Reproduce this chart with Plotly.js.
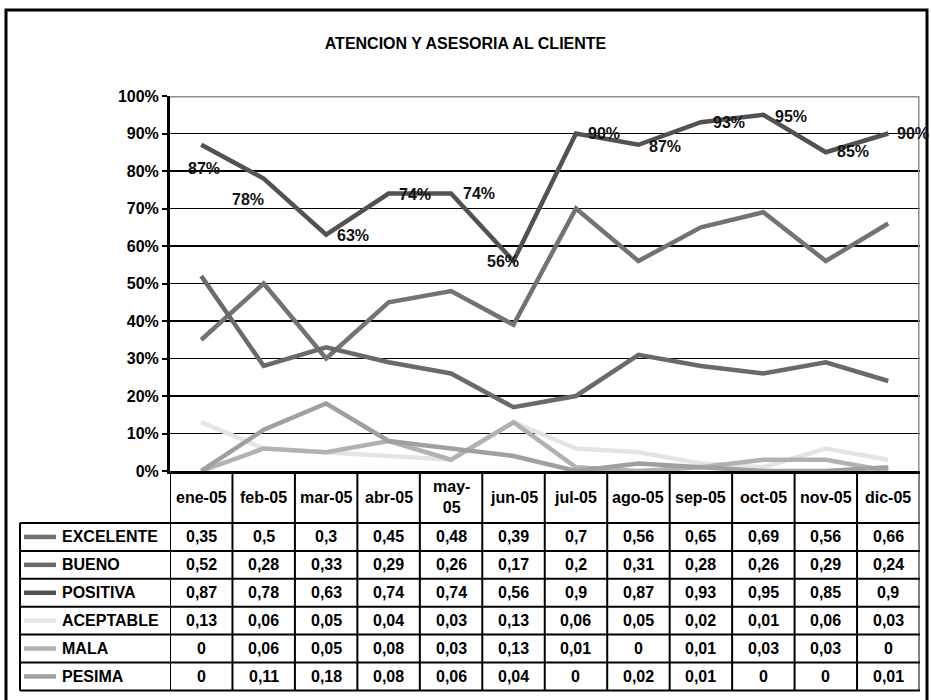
<!DOCTYPE html>
<html>
<head>
<meta charset="utf-8">
<script src="https://cdn.plot.ly/plotly-3.0.1.min.js"></script>
<style>
  html, body { margin: 0; padding: 0; background: #ffffff; }
  #chart { width: 931px; height: 700px; }
</style>
</head>
<body>
<div id="chart"></div>
<script>
// Monthly customer-service ratings for 2005
const categories = ['ene-05', 'feb-05', 'mar-05', 'abr-05', 'may-05', 'jun-05',
                    'jul-05', 'ago-05', 'sep-05', 'oct-05', 'nov-05', 'dic-05'];
const seriesNames = ['EXCELENTE', 'BUENO', 'POSITIVA', 'ACEPTABLE', 'MALA', 'PESIMA'];
const excelente = [0.35, 0.5, 0.3, 0.45, 0.48, 0.39, 0.7, 0.56, 0.65, 0.69, 0.56, 0.66];
const bueno     = [0.52, 0.28, 0.33, 0.29, 0.26, 0.17, 0.2, 0.31, 0.28, 0.26, 0.29, 0.24];
const positiva  = [0.87, 0.78, 0.63, 0.74, 0.74, 0.56, 0.9, 0.87, 0.93, 0.95, 0.85, 0.9];
const aceptable = [0.13, 0.06, 0.05, 0.04, 0.03, 0.13, 0.06, 0.05, 0.02, 0.01, 0.06, 0.03];
const mala      = [0, 0.06, 0.05, 0.08, 0.03, 0.13, 0.01, 0, 0.01, 0.03, 0.03, 0];
const pesima    = [0, 0.11, 0.18, 0.08, 0.06, 0.04, 0, 0.02, 0.01, 0, 0, 0.01];
const seriesValues = [excelente, bueno, positiva, aceptable, mala, pesima];

// Styling
const seriesColors = ['#737373', '#6a6a6a', '#525252', '#e4e4e4', '#b2b2b2', '#a0a0a0'];
const FONT = '"Liberation Sans", Arial, sans-serif';
const W = 931, H = 700;
const px = v => v / W;              // pixel -> paper x
const py = v => 1 - v / H;          // pixel -> paper y
const boldFont = (size, color) => ({ family: FONT, size: size, color: color || '#000000', weight: 'bold' });

// Data-label nudges for the POSITIVA series (pixels, right / up)
const labelDx = [3, -16, 27, 26, 28, -11, 28, 27, 28, 28, 27, 25];
const labelDy = [-24, -21, -1, -1, 0, 0, 0, -2, 0, -2, 1, 0];

// Table geometry (pixels)
const axisBottomPx = 471, headerBottomPx = 523, rowH = 27.9;
const tableLeftPx = 20, tableRightPx = 920;

const traces = seriesValues.map((vals, i) => ({
  type: 'scatter',
  mode: 'lines',
  name: seriesNames[i],
  x: categories,
  y: vals,
  line: { color: seriesColors[i], width: 4.5 },
  hoverinfo: 'skip'
}));

const shapes = [];
const annotations = [];

// Outer chart frame
shapes.push({ type: 'rect', xref: 'paper', yref: 'paper',
  x0: px(6), x1: px(927), y0: py(712), y1: py(10),
  line: { color: '#000000', width: 3 }, fillcolor: 'rgba(0,0,0,0)' });

// Grey plot-area border on top and right
shapes.push({ type: 'line', xref: 'x', yref: 'y', x0: -0.5, x1: categories.length - 0.5, y0: 1, y1: 1,
  line: { color: '#8e8e8e', width: 3 } });
shapes.push({ type: 'line', xref: 'x', yref: 'y', x0: categories.length - 0.5, x1: categories.length - 0.5, y0: 0, y1: 1,
  line: { color: '#8e8e8e', width: 3 } });

// Data table: column separators follow the category scale
const tableBottomPx = headerBottomPx + rowH * seriesNames.length;
for (let i = 0; i <= categories.length; i++) {
  shapes.push({ type: 'line', xref: 'x', yref: 'paper', x0: i - 0.5, x1: i - 0.5,
    y0: py(axisBottomPx), y1: py(tableBottomPx), line: { color: '#000000', width: 2 } });
}
// Row separators
for (let r = 0; r <= seriesNames.length; r++) {
  const y = headerBottomPx + r * rowH;
  shapes.push({ type: 'line', xref: 'paper', yref: 'paper', x0: px(tableLeftPx), x1: px(tableRightPx),
    y0: py(y), y1: py(y), line: { color: '#000000', width: 2 } });
}
shapes.push({ type: 'line', xref: 'paper', yref: 'paper', x0: px(tableLeftPx), x1: px(tableLeftPx),
  y0: py(headerBottomPx), y1: py(tableBottomPx), line: { color: '#000000', width: 2 } });

// Header row: category names
const headerText = categories.map(c => c === 'may-05' ? 'may-<br>05' : c);
categories.forEach((c, i) => {
  annotations.push({ xref: 'x', yref: 'paper', x: c, y: py((axisBottomPx + headerBottomPx) / 2),
    text: headerText[i], showarrow: false, xanchor: 'center', yanchor: 'middle',
    font: boldFont(16), align: 'center' });
});

// Series rows: legend key, name, values
seriesNames.forEach((name, r) => {
  const yc = headerBottomPx + (r + 0.5) * rowH;
  shapes.push({ type: 'line', xref: 'paper', yref: 'paper', x0: px(24), x1: px(56), y0: py(yc), y1: py(yc),
    line: { color: seriesColors[r], width: 4.5 } });
  annotations.push({ xref: 'paper', yref: 'paper', x: px(60), y: py(yc), text: name,
    showarrow: false, xanchor: 'left', yanchor: 'middle', font: boldFont(16) });
  seriesValues[r].forEach((v, i) => {
    annotations.push({ xref: 'x', yref: 'paper', x: categories[i], y: py(yc),
      text: String(v).replace('.', ','), showarrow: false, xanchor: 'center', yanchor: 'middle',
      font: boldFont(16) });
  });
});

// Percentage labels on the POSITIVA line
positiva.forEach((v, i) => {
  annotations.push({ xref: 'x', yref: 'y', x: categories[i], y: v,
    text: Math.round(v * 100) + '%', showarrow: false, xanchor: 'center', yanchor: 'middle',
    xshift: labelDx[i], yshift: labelDy[i], font: boldFont(16, '#111111') });
});

const layout = {
  width: W, height: H,
  margin: { l: 0, r: 0, t: 0, b: 0 },
  paper_bgcolor: '#ffffff', plot_bgcolor: '#ffffff',
  showlegend: false,
  title: { text: 'ATENCION Y ASESORIA AL CLIENTE', x: 0.5, xanchor: 'center',
           y: py(43), yanchor: 'middle', font: boldFont(16) },
  xaxis: {
    type: 'category', domain: [px(170), px(919.5)], range: [-0.5, categories.length - 0.5],
    showticklabels: false, ticks: '', showgrid: false, zeroline: false,
    showline: true, linecolor: '#000000', linewidth: 3, fixedrange: true
  },
  yaxis: {
    domain: [py(axisBottomPx), py(96)], range: [0, 1],
    tickvals: [0, 0.1, 0.2, 0.3, 0.4, 0.5, 0.6, 0.7, 0.8, 0.9, 1],
    tickformat: '.0%', tickfont: boldFont(16),
    ticks: 'outside', ticklen: 5, tickwidth: 2, tickcolor: '#000000',
    showgrid: true, gridcolor: '#000000', gridwidth: 1.5, zeroline: false,
    showline: true, linecolor: '#000000', linewidth: 3, fixedrange: true
  },
  shapes: shapes,
  annotations: annotations
};

Plotly.newPlot('chart', traces, layout, { staticPlot: true, displayModeBar: false });
</script>
</body>
</html>
